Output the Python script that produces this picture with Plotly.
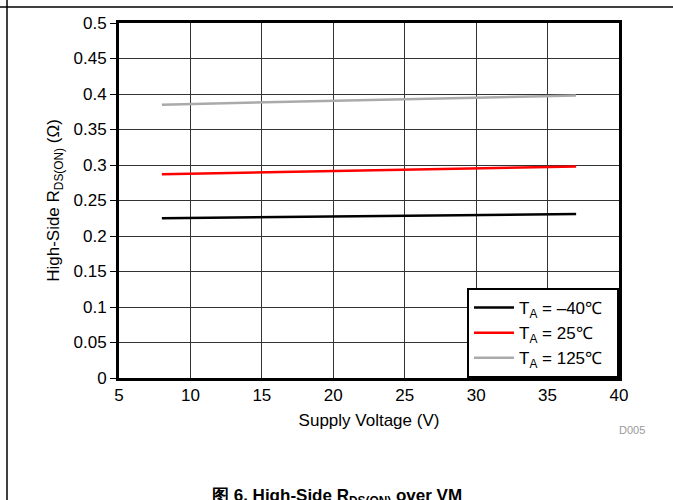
import plotly.graph_objects as go

vm = [8, 37]
r_m40 = [0.225, 0.231]
r_25 = [0.287, 0.298]
r_125 = [0.385, 0.398]
names = ["T<sub>A</sub> = –40℃  ", "T<sub>A</sub> = 25℃", "T<sub>A</sub> = 125℃"]
colors = ["#000000", "#ff0000", "#aaaaaa"]
ytickvals = [0, 0.05, 0.1, 0.15, 0.2, 0.25, 0.3, 0.35, 0.4, 0.45, 0.5]
yticktext = ["0", "0.05", "0.1", "0.15", "0.2", "0.25", "0.3", "0.35", "0.4", "0.45", "0.5"]
xtickvals = [5, 10, 15, 20, 25, 30, 35, 40]

fig = go.Figure()
for ys, n, c in zip([r_m40, r_25, r_125], names, colors):
    fig.add_trace(go.Scatter(x=vm, y=ys, mode="lines", name=n,
                             line=dict(color=c, width=2.5)))

font = "Liberation Sans, Arial, sans-serif"
fig.update_layout(
    width=673, height=500,
    margin=dict(l=119, r=54, t=23, b=122),
    paper_bgcolor="white", plot_bgcolor="white",
    font=dict(family=font, size=17, color="black"),
    showlegend=True,
    legend=dict(x=1, y=0, xanchor="right", yanchor="bottom",
                bordercolor="black", borderwidth=2, bgcolor="white",
                font=dict(size=17), tracegroupgap=0, itemwidth=40),
    xaxis=dict(range=[5, 40], tickvals=xtickvals, showgrid=True,
               gridcolor="#333333", gridwidth=1, zeroline=False,
               showline=True, linecolor="black", linewidth=3, mirror=True,
               ticks="", tickfont=dict(size=17),
               title=dict(text="Supply Voltage (V)", font=dict(size=17), standoff=10)),
    yaxis=dict(range=[0, 0.5], tickvals=ytickvals, ticktext=yticktext,
               showgrid=True, gridcolor="#333333", gridwidth=1, zeroline=False,
               showline=True, linecolor="black", linewidth=3, mirror=True,
               ticks="outside", ticklen=6, tickcolor="black",
               tickfont=dict(size=17),
               title=dict(text="High-Side R<sub>DS(ON)</sub> (Ω)", font=dict(size=17), standoff=10)),
    shapes=[
        dict(type="line", xref="paper", yref="paper", x0=-119/500, x1=554/500,
             y0=(378-7)/355, y1=(378-7)/355, line=dict(color="black", width=1.5)),
        dict(type="line", xref="paper", yref="paper", x0=-112/500, x1=-112/500,
             y0=378/355, y1=-122/355, line=dict(color="black", width=1.5)),
    ],
    annotations=[
        dict(text="D005", xref="paper", yref="paper", x=(647-119)/500, y=(378-430)/355,
             xanchor="right", yanchor="middle", showarrow=False,
             font=dict(size=11, color="#999999")),
        dict(text="<b>图 6. High-Side R<sub>DS(ON)</sub> over VM</b>", xref="paper", yref="paper",
             x=(337-119)/500, y=(378-484)/355, xanchor="center", yanchor="top",
             showarrow=False, font=dict(size=17, color="black")),
    ],
)
fig.write_html("out.html")
